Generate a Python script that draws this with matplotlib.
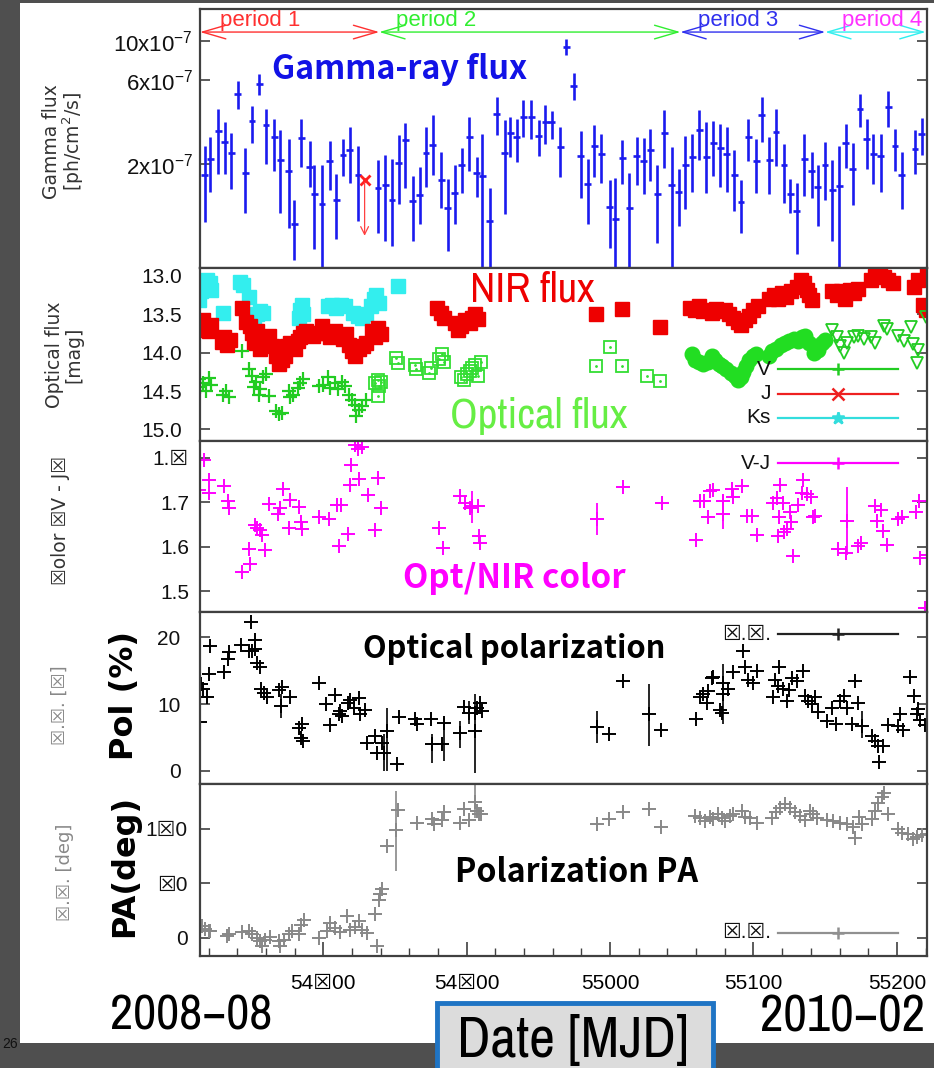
import numpy as np
import matplotlib
matplotlib.use('Agg')
import matplotlib.pyplot as plt
import matplotlib.ticker as mticker
from matplotlib import font_manager as fm
from matplotlib.font_manager import FontProperties
from matplotlib.patches import Rectangle

W, H = 934, 1068

JP = 'Noto Sans CJK JP'
BOX = '\u2612'  # the slide shows missing-glyph boxes in these labels


def find_narrow():
    # most condensed regular sans face that is installed
    ranks = [('Narrow', 0), ('ExtraCondensed', 1), ('UltraCondensed', 1), ('SemiCondensed', 3),
             ('Condensed', 2)]
    best, best_rank = None, 99
    for f in fm.fontManager.ttflist:
        if f.style != 'normal' or f.weight not in (400, 'normal', 'regular', 'book'):
            continue
        for tag, r in ranks:
            if tag in f.name or tag.lower() in str(f.stretch).replace('-', ''):
                if r < best_rank:
                    best, best_rank = f.fname, r
                break
    return best


NARROW_FILE = find_narrow()

plt.rcParams['font.family'] = ['Liberation Sans', 'DejaVu Sans']
plt.rcParams['mathtext.default'] = 'regular'

# ---------------- data ----------------
xlim = (54714, 55221)

# gamma-ray flux, units of 1e-7 ph/cm2/s
gam_mjd = [54717.3, 54721.3, 54726.6, 54731.2, 54735.9, 54740.3, 54745.6, 54750.3, 54755.4, 54760.0,
           54765.9, 54770.0, 54775.8, 54779.8, 54784.7, 54790.5, 54793.7, 54799.1, 54804.4, 54809.1,
           54813.7, 54818.4, 54824.2, 54838.1, 54843.2, 54847.9, 54852.5, 54857.2, 54862.3, 54867.1,
           54871.6, 54876.4, 54882.2, 54886.9, 54891.5, 54896.6, 54901.8, 54907.1, 54911.0, 54915.9,
           54921.0, 54926.4, 54930.3, 54935.0, 54939.6, 54944.9, 54950.1, 54954.7, 54959.4, 54965.2,
           54969.4, 54974.5, 54979.6, 54984.3, 54989.1, 54993.8, 54999.6, 55003.5, 55008.6, 55013.5,
           55018.6, 55023.3, 55027.9, 55033.0, 55037.9, 55043.0, 55047.7, 55052.3, 55057.4, 55062.3,
           55067.0, 55072.1, 55076.7, 55081.4, 55086.5, 55091.3, 55096.4, 55101.8, 55105.7, 55111.1,
           55115.7, 55121.3, 55125.5, 55130.1, 55135.5, 55140.6, 55144.8, 55149.9, 55155.0, 55159.9,
           55164.3, 55169.2, 55174.3, 55178.9, 55183.6, 55188.7, 55194.0, 55198.7, 55203.3, 55212.6,
           55217.2]
gam_flux = [1.73, 2.12, 3.06, 2.66, 2.31, 5.01, 1.77, 3.49, 5.70, 3.34,
            2.84, 2.09, 1.83, 0.91, 2.80, 1.92, 1.35, 1.18, 2.06, 1.25,
            2.23, 2.41, 1.73, 1.45, 1.52, 1.25, 2.03, 2.72, 1.22, 1.33,
            2.30, 2.57, 1.61, 1.12, 1.37, 1.97, 2.84, 1.77, 1.70, 0.95,
            3.86, 2.31, 3.00, 2.84, 3.69, 3.69, 2.87, 3.46, 3.46, 2.49,
            9.25, 5.55, 2.20, 1.53, 2.51, 2.26, 1.14, 0.97, 2.15, 1.12,
            2.20, 2.07, 2.38, 1.35, 3.00, 1.51, 1.38, 1.98, 2.18, 3.10,
            2.18, 2.62, 2.45, 2.26, 1.73, 1.21, 2.84, 2.07, 3.78, 2.11,
            3.03, 1.96, 1.35, 1.08, 2.14, 1.83, 1.47, 1.96, 1.42, 1.50,
            2.64, 1.87, 4.12, 2.78, 2.26, 2.20, 4.21, 2.51, 1.72, 2.44,
            2.95]
gam_lo = [0.93, 1.38, 1.75, 1.75, 1.44, 4.08, 1.05, 2.64, 4.94, 2.00,
          1.83, 1.05, 0.86, 0.57, 1.92, 1.47, 0.65, 0.40, 1.42, 0.75,
          1.71, 1.56, 0.94, 0.81, 0.73, 0.68, 1.18, 1.45, 0.73, 0.91,
          1.47, 1.73, 1.12, 0.64, 0.91, 1.37, 1.81, 1.29, 0.40, 0.40,
          2.93, 1.04, 2.18, 2.04, 2.84, 2.78, 2.20, 2.60, 2.78, 1.68,
          8.30, 4.64, 1.27, 0.91, 1.68, 1.55, 0.66, 0.40, 1.54, 0.40,
          1.52, 1.34, 1.60, 0.71, 1.89, 0.40, 0.88, 1.10, 1.38, 2.09,
          1.37, 1.70, 1.48, 1.38, 1.08, 0.81, 2.06, 1.36, 2.66, 1.35,
          1.94, 1.20, 1.05, 0.61, 1.31, 1.28, 0.89, 1.25, 0.73, 0.40,
          1.89, 1.16, 3.24, 1.87, 1.54, 1.38, 3.22, 1.82, 1.11, 1.75,
          2.25]
gam_hi = [2.54, 2.84, 4.08, 3.46, 2.99, 5.90, 2.45, 4.27, 6.52, 4.08,
          3.61, 3.10, 2.78, 1.25, 3.61, 2.68, 1.98, 1.96, 2.70, 1.74,
          2.78, 3.24, 2.52, 2.09, 2.25, 2.12, 2.90, 3.41, 1.70, 1.92,
          3.24, 3.81, 2.33, 1.63, 1.96, 2.45, 3.69, 2.18, 2.97, 1.45,
          4.80, 3.56, 3.69, 3.61, 4.59, 4.59, 3.53, 4.34, 4.00, 3.24,
          10.3, 6.60, 3.07, 2.12, 3.34, 2.97, 1.62, 1.66, 2.72, 1.77,
          2.84, 2.81, 3.17, 1.96, 4.06, 2.49, 1.87, 2.86, 2.97, 4.03,
          3.46, 3.49, 3.38, 3.24, 2.40, 1.61, 3.61, 2.78, 4.80, 2.84,
          4.12, 2.60, 1.64, 1.55, 2.95, 2.33, 1.96, 2.66, 2.09, 2.52,
          3.38, 2.62, 5.01, 3.61, 2.97, 2.97, 5.17, 3.17, 2.33, 3.10,
          3.66]
gam_halfbin = 2.4
ul_mjd, ul_flux, ul_to = 54828.8, 1.62, 0.75

periods = ['period 1', 'period 2', 'period 3', 'period 4']
period_edges = [(54714, 54839), (54839, 55049), (55049, 55150), (55150, 55220)]
period_label_x = [54756, 54879, 55089, 55190]
period_colors = ['#ff3030', '#30ee30', '#3030ee', '#30eeee']
period_text_colors = ['#ff3030', '#30ee30', '#3030ee', '#ff30ff']

# optical / NIR magnitudes
j_mjd = [54712, 54714, 54716, 54718, 54720, 54722, 54729, 54731, 54733, 54735,
         54743, 54746, 54749, 54750, 54752, 54754, 54756, 54758, 54760, 54762,
         54764, 54767, 54769, 54771, 54773, 54775, 54777, 54780, 54782, 54784,
         54786, 54788, 54793, 54796, 54799, 54802, 54805, 54808, 54811, 54814,
         54816, 54818, 54820, 54822, 54825, 54828, 54830, 54834, 54836, 54838,
         54840, 54879, 54882, 54884, 54892, 54894, 54896, 54899, 54902, 54904,
         54906, 54908, 54990, 55008, 55035, 55056, 55059, 55062, 55065, 55068,
         55071, 55074, 55077, 55080, 55083, 55086, 55089, 55091, 55094, 55097,
         55100, 55103, 55111, 55114, 55117, 55120, 55123, 55126, 55130, 55133,
         55135, 55137, 55139, 55141, 55155, 55158, 55161, 55164, 55167, 55170,
         55173, 55182, 55185, 55188, 55191, 55194, 55197, 55212, 55215, 55218,
         55220, 55221]
j_mag = [13.62, 13.70, 13.58, 13.66, 13.72, 13.64, 13.86, 13.80, 13.90, 13.84,
         13.42, 13.60, 13.66, 13.75, 13.88, 13.72, 13.95, 13.82, 13.90, 13.78,
         13.92, 14.05, 14.15, 14.10, 14.05, 13.92, 13.88, 13.95, 13.85, 13.80,
         13.74, 13.72, 13.78, 13.74, 13.66, 13.75, 13.80, 13.72, 13.78, 13.82,
         13.76, 13.90, 13.98, 14.04, 13.95, 13.92, 13.88, 13.72, 13.80, 13.68,
         13.76, 13.42, 13.48, 13.55, 13.62, 13.70, 13.66, 13.58, 13.62, 13.55,
         13.50, 13.56, 13.50, 13.43, 13.67, 13.42, 13.45, 13.40, 13.46, 13.44,
         13.48, 13.43, 13.46, 13.45, 13.50, 13.55, 13.60, 13.64, 13.58, 13.52,
         13.45, 13.40, 13.30, 13.25, 13.30, 13.22, 13.28, 13.20, 13.15, 13.05,
         13.10, 13.18, 13.25, 13.32, 13.20, 13.25, 13.20, 13.30, 13.18, 13.22,
         13.17, 13.05, 13.00, 12.93, 13.02, 13.06, 13.10, 13.15, 13.05, 13.38,
         13.45, 12.98]
ks_mjd = [54712, 54713, 54715, 54717, 54719, 54721, 54722, 54730, 54742, 54744,
          54748, 54750, 54752, 54754, 54756, 54758, 54783, 54784, 54785, 54786,
          54803, 54806, 54809, 54812, 54815, 54821, 54824, 54827, 54830, 54833,
          54835, 54837, 54839, 54852]
ks_mag = [13.25, 13.32, 13.20, 13.12, 13.06, 13.10, 13.18, 13.49, 13.08, 13.12,
          13.28, 13.62, 13.55, 13.50, 13.46, 13.48, 13.55, 13.45, 13.38, 13.50,
          13.40, 13.38, 13.42, 13.38, 13.40, 13.48, 13.52, 13.55, 13.50, 13.40,
          13.30, 13.25, 13.35, 13.14]
v_mjd = [54713, 54714, 54716, 54718, 54720, 54722, 54730, 54732, 54734, 54743,
         54748, 54750, 54752, 54753, 54755, 54756, 54758, 54760, 54762, 54767,
         54769, 54771, 54776, 54777, 54779, 54782, 54784, 54786, 54797, 54800,
         54803, 54805, 54808, 54810, 54813, 54815, 54818, 54820, 54822, 54823,
         54825, 54827, 54830]
v_mag = [14.35, 14.45, 14.40, 14.50, 14.33, 14.42, 14.55, 14.50, 14.58, 13.98,
         14.22, 14.30, 14.45, 14.38, 14.55, 14.48, 14.32, 14.28, 14.57, 14.76,
         14.80, 14.78, 14.50, 14.58, 14.55, 14.46, 14.40, 14.35, 14.44, 14.42,
         14.32, 14.46, 14.40, 14.48, 14.38, 14.44, 14.55, 14.62, 14.68, 14.82,
         14.75, 14.70, 14.62]
sq_mjd = [54836, 54838, 54839, 54840, 54838, 54851, 54852, 54864, 54864.5, 54874,
          54875, 54881, 54883, 54884, 54896, 54898, 54900, 54902, 54904, 54906,
          54908, 54910, 54990, 54999.6, 55008, 55026, 55035]
sq_mag = [14.40, 14.36, 14.44, 14.38, 14.57, 14.07, 14.14, 14.16, 14.22, 14.26,
          14.20, 14.08, 14.02, 14.12, 14.32, 14.36, 14.28, 14.24, 14.20, 14.16,
          14.30, 14.12, 14.18, 13.93, 14.17, 14.31, 14.37]
circ_mjd = [55057, 55059, 55062, 55065, 55068, 55071, 55073, 55076, 55078, 55081,
            55084, 55087, 55089, 55091, 55093, 55095, 55097, 55100, 55102, 55111,
            55113, 55116, 55119, 55122, 55125, 55128, 55131, 55134, 55136, 55139,
            55142, 55145, 55148, 55150]
circ_mag = [14.02, 14.10, 14.12, 14.15, 14.12, 14.05, 14.10, 14.15, 14.18, 14.22,
            14.27, 14.30, 14.36, 14.32, 14.25, 14.18, 14.10, 14.05, 14.02, 14.04,
            13.98, 13.95, 13.90, 13.88, 13.85, 13.82, 13.85, 13.80, 13.78, 13.88,
            14.00, 13.96, 13.88, 13.84]
tri_mjd = [55155, 55158, 55160, 55163, 55165, 55170, 55173, 55177, 55182, 55185,
           55191, 55193, 55201, 55205, 55210, 55211, 55215, 55214, 55220.5]
tri_mag = [13.71, 13.80, 13.91, 14.00, 13.87, 13.80, 13.78, 13.82, 13.80, 13.87,
           13.65, 13.69, 13.78, 13.85, 13.67, 13.89, 13.96, 14.13, 13.54]

# V-J colour
col_mjd = [54716.6, 54713.1, 54720.1, 54720.6, 54730.5, 54733.6, 54734.0, 54743.3, 54748.0, 54749.1,
           54752.2, 54753.8, 54756.1, 54757.3, 54759.1, 54761.9, 54768.4, 54770.0, 54771.7, 54777.0,
           54775.8, 54782.8, 54784.7, 54785.1, 54796.8, 54803.7, 54809.5, 54812.3, 54810.7, 54817.2,
           54818.8, 54819.5, 54821.8, 54824.2, 54827.0, 54824.6, 54831.1, 54836.2, 54838.1, 54840.4,
           54880.4, 54883.2, 54895.5, 54898.5, 54902.4, 54903.6, 54907.8, 54908.3, 54909.4,
           54990.8, 55008.9, 55036.1, 55059.7, 55062.8, 55065.8, 55068.6, 55069.7, 55072.1, 55078.6,
           55078.6, 55084.8, 55086.0, 55091.8, 55095.3, 55098.8, 55102.3, 55113.9, 55116.2, 55118.5,
           55118.1, 55120.4, 55117.4, 55121.3, 55123.6, 55125.5, 55125.9, 55127.8, 55131.3, 55134.8,
           55133.6, 55137.1, 55139.9, 55141.3, 55142.9, 55159.2, 55165.0, 55164.5, 55173.1, 55174.7,
           55184.7, 55186.3, 55188.7, 55190.5, 55192.9, 55201.0, 55203.3, 55213.1, 55215.6, 55216.1,
           55220.7, 55219.6]
col_val = [1.795, 1.728, 1.751, 1.722, 1.736, 1.702, 1.687, 1.544, 1.594, 1.561,
           1.649, 1.642, 1.638, 1.627, 1.593, 1.697, 1.674, 1.687, 1.730, 1.706,
           1.642, 1.689, 1.655, 1.639, 1.668, 1.662, 1.694, 1.694, 1.602, 1.628,
           1.740, 1.785, 1.828, 1.819, 1.825, 1.752, 1.717, 1.638, 1.755, 1.688,
           1.642, 1.597, 1.715, 1.698, 1.687, 1.691, 1.691, 1.623, 1.608,
           1.662, 1.734, 1.698, 1.615, 1.704, 1.702, 1.667, 1.725, 1.728, 1.704,
           1.674, 1.730, 1.712, 1.736, 1.670, 1.670, 1.627, 1.698, 1.710, 1.740,
           1.668, 1.698, 1.623, 1.632, 1.640, 1.679, 1.655, 1.579, 1.694, 1.751,
           1.722, 1.719, 1.712, 1.667, 1.670, 1.594, 1.658, 1.585, 1.602, 1.608,
           1.691, 1.658, 1.682, 1.636, 1.604, 1.662, 1.668, 1.679, 1.704, 1.574,
           1.581, 1.461]
col_bar_mjd = [54903.6, 54990.8, 55078.6, 55165.0]
col_bar_lo = [1.653, 1.627, 1.640, 1.581]
col_bar_hi = [1.725, 1.698, 1.717, 1.735]

# optical polarization degree (%)
pol_mjd = [54715.0, 54715.9, 54718.9, 54714.3, 54720.6, 54721.0, 54730.5, 54733.3, 54734.0, 54742.9,
           54748.0, 54749.8, 54752.2, 54752.6, 54750.3, 54753.8, 54755.6, 54756.8, 54758.4, 54760.7,
           54768.9, 54771.2, 54770.7, 54777.0, 54782.8, 54785.1, 54784.7, 54785.6, 54796.8, 54802.1,
           54804.9, 54808.4, 54810.7, 54811.9, 54813.0, 54817.2, 54818.8, 54821.1, 54824.6, 54825.8,
           54828.8, 54830.4, 54836.2, 54837.4, 54840.9, 54842.0, 54844.4, 54851.3, 54852.5, 54864.1,
           54865.3, 54875.3, 54875.8, 54882.7, 54883.9, 54895.5, 54897.8, 54901.3, 54905.5, 54905.9,
           54907.1, 54909.4, 54910.6,
           54990.8, 54998.9, 55008.9, 55026.8, 55035.6, 55059.7, 55062.8, 55065.1, 55067.4, 55068.6,
           55070.9, 55072.1, 55076.7, 55077.9, 55078.6, 55079.0, 55082.5, 55085.5, 55092.5, 55094.1,
           55096.4, 55099.5, 55102.3, 55113.9, 55115.0, 55118.1, 55117.4, 55120.8, 55123.2, 55125.0,
           55126.6, 55130.1, 55134.3, 55135.9, 55138.3, 55140.6, 55142.9, 55145.2, 55151.0, 55154.5,
           55157.6, 55160.3, 55163.1, 55165.4, 55168.5, 55170.8, 55173.1, 55175.4, 55182.4, 55184.7,
           55187.0, 55187.5, 55190.1, 55194.0, 55201.0, 55202.1, 55204.5, 55209.1, 55211.9, 55213.8,
           55214.9, 55216.1, 55219.6]
pol_val = [13.0, 12.25, 11.1, 7.35, 14.5, 18.75, 14.85, 16.75, 17.85, 18.9,
           18.0, 22.25, 19.6, 18.25, 17.9, 16.1, 15.5, 12.25, 11.6, 11.1,
           12.1, 12.6, 9.75, 11.1, 6.5, 7.0, 5.0, 4.5, 13.1, 10.0,
           6.85, 11.35, 8.5, 9.0, 8.25, 10.25, 10.6, 9.5, 10.9, 8.5,
           9.1, 4.25, 5.25, 2.75, 4.25, 2.75, 6.0, 1.0, 8.1, 7.75,
           7.1, 7.75, 4.0, 4.0, 7.25, 5.75, 9.6, 8.75, 8.75, 6.0,
           9.5, 10.25, 9.0,
           6.6, 5.5, 13.5, 8.5, 6.15, 7.75, 11.1, 11.5, 10.25, 12.0,
           13.9, 14.1, 9.1, 8.75, 11.5, 13.1, 12.25, 14.75, 18.0, 15.6,
           13.6, 13.1, 15.0, 11.0, 13.6, 15.5, 12.75, 12.25, 10.5, 12.1,
           13.9, 13.5, 15.0, 11.25, 10.5, 10.0, 11.0, 8.9, 7.5, 9.5,
           7.1, 10.5, 11.25, 9.5, 7.0, 13.4, 10.25, 6.75, 5.25, 4.5,
           3.75, 1.4, 3.75, 6.9, 6.75, 8.6, 6.1, 14.1, 11.25, 8.5,
           9.25, 7.6, 6.9]
pol_bar_mjd = [54770.7, 54842.0, 54844.4, 54875.8, 54883.9, 54895.5, 54901.3, 54905.5,
               54990.8, 55026.8, 55078.6, 55175.4]
pol_bar_lo = [8.0, 0.0, 0.0, 1.25, 1.5, 3.5, 7.0, -0.25, 4.25, 3.75, 7.0, 5.0]
pol_bar_hi = [11.5, 5.5, 9.5, 5.5, 8.0, 7.5, 10.5, 11.5, 9.0, 13.0, 16.0, 9.0]

# polarization position angle (deg)
pa_mjd = [54715.4, 54717.8, 54720.1, 54721.3, 54732.9, 54734.0, 54743.3, 54748.0, 54750.3, 54753.8,
          54756.1, 54757.3, 54759.6, 54763.1, 54768.9, 54770.0, 54772.4, 54775.8, 54778.2, 54782.8,
          54784.7, 54786.3, 54796.8, 54802.6, 54804.9, 54808.4, 54811.8, 54816.5, 54818.8, 54822.3,
          54824.6, 54827.0, 54830.4, 54836.2, 54837.4, 54838.6, 54839.7, 54840.9, 54844.4, 54850.9,
          54851.8, 54865.3, 54875.7, 54876.9, 54882.7, 54883.9, 54895.5, 54897.8, 54901.3, 54905.9,
          54907.1, 54908.3, 54910.1,
          54990.8, 54998.9, 55008.9, 55026.8, 55035.6, 55059.3, 55062.8, 55066.2, 55069.7, 55072.1,
          55075.5, 55077.9, 55080.2, 55083.7, 55086.0, 55091.8, 55094.1, 55097.6, 55102.3, 55112.7,
          55115.7, 55118.5, 55122.0, 55125.5, 55129.0, 55132.5, 55135.9, 55139.4, 55141.3, 55144.1,
          55151.0, 55155.7, 55160.3, 55165.0, 55169.6, 55170.8, 55173.8, 55175.4, 55182.4, 55184.7,
          55187.0, 55189.4, 55191.0, 55194.0, 55201.0, 55203.3, 55208.0, 55211.5, 55213.8, 55217.2,
          55220.7]
pa_val = [17.2, 13.7, 10.8, 9.8, 2.5, 5.9, 8.8, 10.8, 5.9, 0.0,
          -4.9, -12.3, -2.5, 1.0, -4.9, -12.3, -2.5, 5.9, 10.8, 5.9,
          19.6, 27.0, 0.0, 9.8, 22.1, 14.7, 8.8, 31.9, 12.3, 15.7,
          24.5, 12.3, 7.4, 35.3, -12.3, 55.0, 63.8, 71.2, 135.0, 158.0,
          187.5, 169.3, 174.2, 167.9, 172.8, 185.5, 169.3, 189.0, 172.8, 200.2,
          186.5, 182.6, 181.6,
          166.9, 174.2, 185.5, 189.9, 163.0, 179.1, 175.7, 171.8, 177.7, 174.2,
          182.6, 176.7, 171.8, 179.1, 182.6, 186.5, 177.7, 176.7, 169.3, 176.7,
          185.5, 191.4, 197.3, 191.4, 185.5, 179.1, 172.8, 186.5, 181.6, 176.7,
          172.8, 171.8, 169.3, 166.9, 163.0, 147.2, 177.7, 167.9, 174.2, 186.5,
          198.8, 207.1, 213.5, 181.6, 159.5, 154.6, 152.2, 144.8, 148.2, 151.2,
          153.1]
pa_bar_mjd = [54850.9, 54905.9]
pa_bar_lo = [98.0, 176.7]
pa_bar_hi = [216.0, 225.8]

# ---------------- figure ----------------
fig = plt.figure(figsize=(W / 100, H / 100), dpi=100, facecolor='#4f4f4f')
fig.add_artist(Rectangle((20 / W, 1 - 1043 / H), 1, (1043 - 3) / H,
                         transform=fig.transFigure, fc='white', ec='none', zorder=0))


def px_rect(l, t, r, b):
    return [l / W, 1 - b / H, (r - l) / W, (b - t) / H]


to_fit = []


def ftext(x, y, s, width=None, narrow=False, **kw):
    if narrow and NARROW_FILE:
        kw['fontproperties'] = FontProperties(fname=NARROW_FILE, size=kw.pop('fontsize', 12))
    t = fig.text(x / W, 1 - y / H, s, **kw)
    if width:
        to_fit.append((t, width))
    return t


ax1 = fig.add_axes(px_rect(200, 9, 927, 268))
ax2 = fig.add_axes(px_rect(200, 268, 927, 441))
ax3 = fig.add_axes(px_rect(200, 441, 927, 612))
ax4 = fig.add_axes(px_rect(200, 612, 927, 784))
ax5 = fig.add_axes(px_rect(200, 784, 927, 956))
axes = [ax1, ax2, ax3, ax4, ax5]

for ax in axes:
    ax.set_xlim(*xlim)
    for sp in ax.spines.values():
        sp.set_color('#404040')
        sp.set_linewidth(1.6)
    ax.tick_params(axis='y', direction='in', length=7, width=1.2, color='#404040',
                   left=True, right=True, labelsize=15, labelcolor='#111111')
    ax.tick_params(axis='x', which='both', bottom=False, top=False, labelbottom=False)

# --- gamma-ray panel
flux = np.array(gam_flux) * 1e-7
lo = np.array(gam_lo) * 1e-7
hi = np.array(gam_hi) * 1e-7
ax1.errorbar(gam_mjd, flux, xerr=gam_halfbin, yerr=[flux - lo, hi - flux], fmt='none',
             ecolor='#1a1aee', elinewidth=1.9, capsize=0)
ax1.plot([ul_mjd], [ul_flux * 1e-7], 'x', color='#ff2020', ms=7, mew=2)
ax1.annotate('', xy=(ul_mjd, ul_to * 1e-7), xytext=(ul_mjd, ul_flux * 1e-7),
             arrowprops=dict(arrowstyle='->', color='#ff4040', lw=0.9, mutation_scale=14))
ax1.set_yscale('log')
ax1.set_ylim(0.51e-7, 1.52e-6)
ax1.yaxis.set_major_locator(mticker.FixedLocator([2e-7, 6e-7, 1e-6]))
ax1.yaxis.set_minor_locator(mticker.NullLocator())
ax1.yaxis.set_major_formatter(mticker.FixedFormatter(['2x10$^{-7}$', '6x10$^{-7}$', '10x10$^{-7}$']))
ax1.tick_params(axis='y', pad=5, labelsize=16)

for name, (a, b), lx, c, tc in zip(periods, period_edges, period_label_x, period_colors, period_text_colors):
    ax1.annotate('', xy=(b, 0.911), xytext=(a, 0.911), xycoords=('data', 'axes fraction'),
                 arrowprops=dict(arrowstyle='<->,head_length=1.2,head_width=0.35', color=c,
                                 lw=1.0, mutation_scale=14, shrinkA=0, shrinkB=0))
    ax1.text(lx, 0.955, name, transform=ax1.get_xaxis_transform(), ha='center', va='center',
             color=tc, fontsize=16)

# --- optical panel
ax2.plot(ks_mjd, ks_mag, 's', color='#33eeee', ms=10, mec='#33eeee')
ax2.plot(j_mjd, j_mag, 's', color='#ee0000', ms=10, mec='#ee0000')
ax2.plot(v_mjd, v_mag, '+', color='#22cc22', ms=10, mew=1.6)
ax2.plot(sq_mjd, sq_mag, 's', mfc='none', mec='#33dd33', ms=9, mew=1.3)
ax2.plot(sq_mjd, sq_mag, '.', color='#33dd33', ms=2)
ax2.plot(circ_mjd, circ_mag, 'o', color='#22dd22', ms=10.5)
ax2.plot(tri_mjd, tri_mag, 'v', mfc='none', mec='#22cc22', ms=9, mew=1.3)
ax2.set_ylim(15.15, 12.9)
ax2.set_yticks([13.0, 13.5, 14.0, 14.5, 15.0])
ax2.set_yticklabels(['13.0', '13.5', '14.0', '14.5', '15.0'])
ax2.tick_params(axis='y', pad=13)

# --- colour panel
ax3.plot(col_mjd, col_val, '+', color='#ff00ff', ms=10, mew=1.4)
ax3.vlines(col_bar_mjd, col_bar_lo, col_bar_hi, color='#ff00ff', lw=1.3)
ax3.set_ylim(1.453, 1.838)
ax3.set_yticks([1.5, 1.6, 1.7, 1.8])
ax3.set_yticklabels(['1.5', '1.6', '1.7', '1.' + BOX])
ax3.tick_params(axis='y', pad=8)

# --- polarization degree panel
ax4.plot(pol_mjd, pol_val, '+', color='black', ms=10, mew=1.4)
ax4.vlines(pol_bar_mjd, pol_bar_lo, pol_bar_hi, color='black', lw=1.2)
ax4.set_ylim(-1.95, 23.8)
ax4.set_yticks([0, 10, 20])
ax4.tick_params(axis='y', pad=14)

# --- polarization angle panel
ax5.plot(pa_mjd, pa_val, '+', color='#888888', ms=10, mew=1.4)
ax5.vlines(pa_bar_mjd, pa_bar_lo, pa_bar_hi, color='#888888', lw=1.2)
ax5.set_ylim(-26.5, 226)
ax5.set_yticks([0, 80, 160])
ax5.set_yticklabels(['0', BOX + '0', '1' + BOX + '0'])
ax5.tick_params(axis='y', pad=9)
ax5.xaxis.set_major_locator(mticker.FixedLocator([54800, 54900, 55000, 55100, 55200]))
ax5.xaxis.set_major_formatter(mticker.FixedFormatter(['54' + BOX + '00', '54' + BOX + '00',
                                                      '55000', '55100', '55200']))
ax5.xaxis.set_minor_locator(mticker.MultipleLocator(20))
ax5.tick_params(axis='x', which='both', bottom=True, labelbottom=True, direction='in',
                color='#404040', labelsize=15, pad=13)
ax5.tick_params(axis='x', which='major', length=10, width=1.2)
ax5.tick_params(axis='x', which='minor', length=6, width=1.0)


# --- hand-made keys (gnuplot style)
def key(ax, yfrac, label, color, marker, ms=9):
    ax.plot([0.795, 0.960], [yfrac, yfrac], color=color, lw=1.6, transform=ax.transAxes)
    ax.plot([0.878], [yfrac], marker, color=color, ms=ms, mew=1.8, transform=ax.transAxes)
    ax.text(0.785, yfrac, label, transform=ax.transAxes, ha='right', va='center',
            fontsize=15, color='#111111')


key(ax2, 0.416, 'V', '#22cc22', '+')
key(ax2, 0.272, 'J', '#ee2020', 'x', 8)
key(ax2, 0.133, 'Ks', '#33dddd', '*', 9)
key(ax3, 0.871, 'V-J', '#ff00ff', '+')
key(ax4, 0.872, BOX + '.' + BOX + '.', '#222222', '+')
key(ax5, 0.134, BOX + '.' + BOX + '.', '#909090', '+')

# --- y-axis titles
ftext(64, 142, 'Gamma flux\n[ph/cm$^2$/s]', rotation=90, ha='center', va='center',
      fontsize=13.5, color='#333333', family='DejaVu Sans', linespacing=1.0)
ftext(64, 355, 'Optical flux\n[mag]', rotation=90, ha='center', va='center',
      fontsize=13.5, color='#333333', family='DejaVu Sans', linespacing=1.0)
ftext(60, 520, BOX + 'olor ' + BOX + 'V - J' + BOX, rotation=90, ha='center', va='center',
      fontsize=13.5, color='#333333', family='DejaVu Sans')
ftext(60, 705, BOX + '.' + BOX + '. [' + BOX + ']', rotation=90, ha='center', va='center',
      fontsize=13, color='#888888', family='DejaVu Sans')
ftext(65, 872, BOX + '.' + BOX + '. [deg]', rotation=90, ha='center', va='center',
      fontsize=13, color='#888888', family='DejaVu Sans')
ftext(125, 695, 'Pol (%)', rotation=90, ha='center', va='center', fontsize=23,
      fontweight='bold', color='black', family='DejaVu Sans')
ftext(125, 866, 'PA(deg)', rotation=90, ha='center', va='center', fontsize=23,
      fontweight='bold', color='black', family='DejaVu Sans')

# --- slide annotations (fitted to the widths seen on the slide)
ftext(400, 79, 'Gamma-ray flux', width=255, ha='center', va='baseline', fontsize=22,
      fontweight='bold', color='#1212e6', family=JP)
ftext(532, 302, 'NIR flux', width=125, narrow=True, ha='center', va='baseline', fontsize=28,
      color='#ee0000')
ftext(539, 428, 'Optical flux', width=178, narrow=True, ha='center', va='baseline', fontsize=28,
      color='#66ee44')
ftext(514, 588, 'Opt/NIR color', width=222, ha='center', va='baseline', fontsize=22,
      fontweight='bold', color='#ff00ff', family=JP)
ftext(514, 658, 'Optical polarization', width=302, ha='center', va='baseline', fontsize=21,
      fontweight='bold', color='black', family=JP)
ftext(577, 882, 'Polarization PA', width=243, ha='center', va='baseline', fontsize=21,
      fontweight='bold', color='black', family=JP)
ftext(191, 1029, '2008\u221208', width=162, narrow=True, ha='center', va='baseline',
      fontsize=37, color='black')
ftext(842, 1032, '2010\u221202', width=165, narrow=True, ha='center', va='baseline',
      fontsize=37, color='black')

fig.add_artist(Rectangle((437 / W, 1 - 1080 / H), 276 / W, 77 / H, transform=fig.transFigure,
                         fc='#dcdcdc', ec='#1f74c4', lw=3.5, zorder=5))
ftext(573, 1057, 'Date [MJD]', width=232, narrow=True, ha='center', va='baseline',
      fontsize=37, color='black', zorder=6)
ftext(2, 1044, '26', ha='left', va='center', fontsize=10, color='#111111')

renderer = fig.canvas.get_renderer()
for t, wpx in to_fit:
    bb = t.get_window_extent(renderer)
    t.set_fontsize(t.get_fontsize() * wpx / bb.width)

fig.savefig('out.png', dpi=100, facecolor=fig.get_facecolor())
